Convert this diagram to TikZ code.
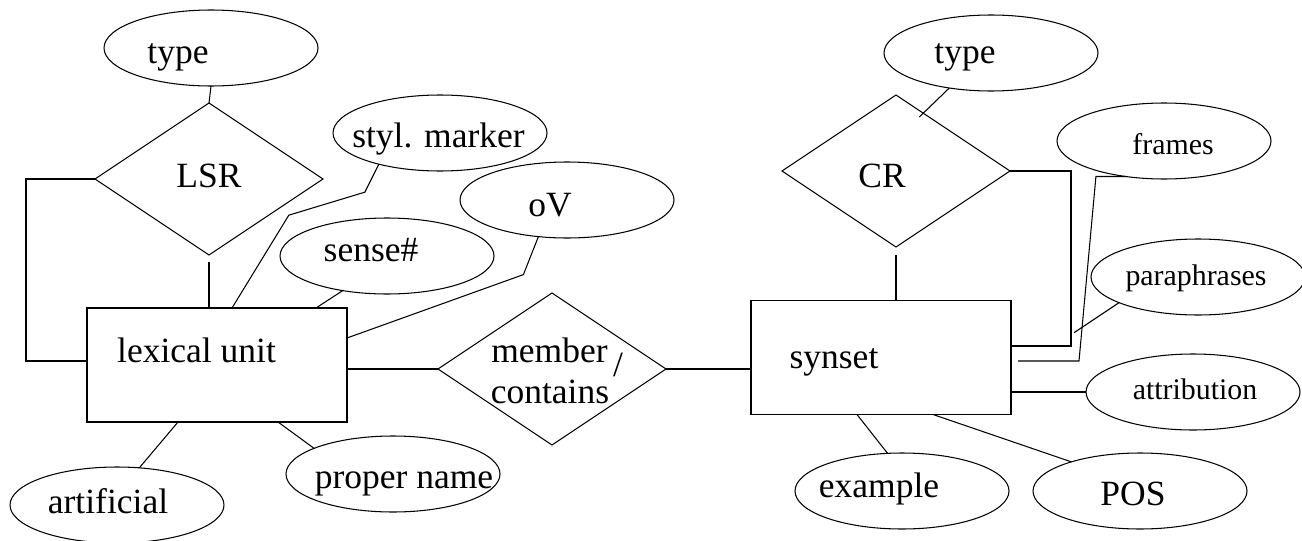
\documentclass[tikz,border=0pt]{standalone}
\usepackage{fontspec}
\setmainfont{Liberation Serif}
\usetikzlibrary{calc, positioning}
\usetikzlibrary{shapes.geometric}

\newlength{\pxu}
\setlength{\pxu}{0.02cm}
\newcommand{\erbig}{\fontsize{20.2}{24}\selectfont}
\newcommand{\ersmall}{\fontsize{17}{20}\selectfont}
\newcommand{\lbl}[3]{\raisebox{-#2\pxu}[0pt][0pt]{\makebox[0pt]{\hspace*{#1\pxu}\hspace*{#1\pxu}#3}}}

\tikzset{
  attr/.style={ellipse, draw, minimum width=214\pxu, minimum height=76\pxu, inner sep=0pt, outer sep=0pt, font=\erbig},
  smallattr/.style={attr, font=\ersmall},
  entity/.style={rectangle, draw, minimum width=260\pxu, minimum height=114\pxu, inner sep=0pt, outer sep=0pt, font=\erbig},
  rel/.style={diamond, draw, minimum width=228\pxu, minimum height=152\pxu, inner sep=0pt, outer sep=0pt, font=\erbig},
}

\begin{document}
\begin{tikzpicture}[x=0.02cm, y=-0.02cm, line width=0.6pt]
\useasboundingbox (0,0) rectangle (1302,541);

\node[attr] (typeL) at (211,48) {\lbl{-33}{15}{type}};
\node[rel] (lsr) at (209,179) {\lbl{0}{8}{LSR}};
\node[entity] (lex) at (217,365) {\lbl{-20.5}{-3}{lexical unit}};
\node[attr] (styl) at (440,133) {\lbl{-1.5}{14}{styl. marker}};
\node[attr] (sense) at (387,256) {\lbl{-16}{5}{sense\#}};
\node[attr] (ov) at (567,200) {\lbl{-17}{16}{oV}};
\node[attr] (art) at (117,505) {\lbl{-9}{8}{artificial}};
\node[attr] (prop) at (393,474) {\lbl{11}{14}{proper name}};
\node[rel] (member) at (552,369) {\lbl{-2.5}{-7}{member}\lbl{-2}{34}{contains}\lbl{66}{7}{/}};
\node[entity] (syn) at (881,357.5) {\lbl{-47}{10.5}{synset}};
\node[attr] (typeR) at (991,53) {\lbl{-26}{10}{type}};
\node[rel] (cr) at (896,171) {\lbl{-14}{16}{CR}};
\node[smallattr] (frames) at (1164,141) {\lbl{9}{13}{frames}};
\node[smallattr] (para) at (1198,277) {\lbl{-2}{8}{paraphrases}};
\node[smallattr] (attrib) at (1193,392) {\lbl{2}{7}{attribution}};
\node[attr] (example) at (902,491) {\lbl{-23}{6}{example}};
\node[attr] (pos) at (1140,491) {\lbl{-7}{14}{POS}};

\draw (typeL.south) -- (lsr.north);
\draw ($(lsr.south)+(0,7)$) -- (lsr.south |- lex.north);
\draw (lsr.west) -- ++(-69,0) |- ($(lex.west)+(0,-4)$);
\draw (styl.207) -- ++(-14,28) -- ++(-76,23) -- ($(lex.north west)+(145,0)$);
\draw (sense.218) -- ($(lex.north west)+(229,0)$);
\draw (ov.232) -- ++(-15,38) -- ($(lex.north east)+(0,30)$);
\draw (lex.east |- member.west) -- (member.west);
\draw (member.east) -- (member.east -| syn.west);
\draw (art.59) -- ($(lex.south west)+(91,0)$);
\draw (prop.162) -- ($(lex.south west)+(191,0)$);

\draw (typeR.220) -- ++(-30,29);
\draw ($(cr.south)+(0,8)$) -- (cr.south |- syn.north);
\draw (cr.east) -- ++(61,0) |- ($(syn.east)+(0,-11.5)$);
\draw (frames.223) -- ++(-30,0) -- ($(syn.east)+(68,3.5)$) -- ($(syn.east)+(7,3.5)$);
\draw (para.198) -- ++(-45,30);
\draw (attrib.west) -- (attrib.west -| syn.east);
\draw (pos.157) -- ($(syn.south west)+(182,0)$);
\draw (example.111) -- ($(syn.south west)+(106,0)$);
\end{tikzpicture}
\end{document}
